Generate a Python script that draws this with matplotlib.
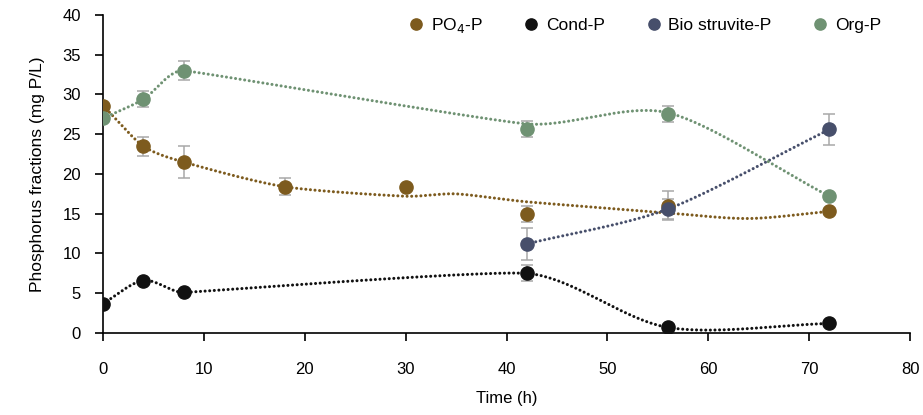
import numpy as np
import matplotlib
matplotlib.use("Agg")
import matplotlib.pyplot as plt

plt.rcParams['font.family'] = ['Liberation Sans', 'DejaVu Sans']

# data
time_po4 = [0, 4, 8, 18, 30, 42, 56, 72]
po4 = [28.6, 23.5, 21.5, 18.4, 18.4, 15.0, 16.0, 15.3]
po4_err = [0, 1.2, 2.0, 1.1, 0, 1.0, 1.8, 0]
# smoothed trend line of PO4-P (does not pass through every point)
po4_line_t = [0, 4, 8, 18, 30, 35, 42, 56, 64, 72]
po4_line = [28.6, 23.5, 21.5, 18.4, 17.2, 17.5, 16.5, 15.1, 14.4, 15.3]

time_cond = [0, 4, 8, 42, 56, 72]
cond = [3.7, 6.6, 5.1, 7.5, 0.7, 1.2]
cond_err = [0, 0, 0, 1.0, 0, 0]

time_bio = [42, 56, 72]
bio = [11.2, 15.6, 25.6]
bio_err = [2.0, 1.2, 2.0]

time_org = [0, 4, 8, 42, 56, 72]
org = [27.0, 29.4, 33.0, 25.7, 27.5, 17.2]
org_err = [0, 1.0, 1.2, 1.0, 1.0, 0]
org_line = [27.0, 29.4, 33.0, 26.3, 27.7, 17.2]

c_po4 = '#7d5b1e'
c_cond = '#111111'
c_bio = '#474f6b'
c_org = '#6f9273'

# pixels per data unit, so smoothing looks like the spreadsheet curve
SX, SY = 10.09, 7.95


def smooth(xs, ys, n=40, k=0.3):
    # bezier smoothing; handle length limited by the shorter neighbour segment
    p = np.column_stack([np.array(xs) * SX, np.array(ys) * SY])
    m = len(p)
    tang = []
    for i in range(m):
        a = p[max(i - 1, 0)]
        b = p[min(i + 1, m - 1)]
        d = b - a
        d = d / np.hypot(*d)
        segs = []
        if i > 0:
            segs.append(np.hypot(*(p[i] - p[i - 1])))
        if i < m - 1:
            segs.append(np.hypot(*(p[i + 1] - p[i])))
        tang.append(d * min(segs) * k)
    out = []
    for i in range(m - 1):
        p1, p2 = p[i], p[i + 1]
        c1 = p1 + tang[i]
        c2 = p2 - tang[i + 1]
        t = np.linspace(0, 1, n)[:, None]
        seg = ((1 - t) ** 3 * p1 + 3 * (1 - t) ** 2 * t * c1
               + 3 * (1 - t) * t ** 2 * c2 + t ** 3 * p2)
        out.append(seg if i == 0 else seg[1:])
    out = np.vstack(out)
    return out[:, 0] / SX, out[:, 1] / SY


fig = plt.figure(figsize=(9.23, 4.15), dpi=100)
ax = fig.add_axes([0.1116, 0.1976, 0.8744, 0.7663])

dot = dict(linestyle=(0, (0.01, 1.5)), dash_capstyle='round', lw=2.2)

series = [
    (time_po4, po4, po4_err, po4_line_t, po4_line, c_po4, 'PO$_4$-P'),
    (time_cond, cond, cond_err, time_cond, cond, c_cond, 'Cond-P'),
    (time_bio, bio, bio_err, time_bio, bio, c_bio, 'Bio struvite-P'),
    (time_org, org, org_err, time_org, org_line, c_org, 'Org-P'),
]

handles = []
for t, y, e, lt, ly, col, lab in series:
    sx, sy = smooth(lt, ly)
    ax.plot(sx, sy, color=col, zorder=2, **dot)
    ax.errorbar(t, y, yerr=e, fmt='none', ecolor='#a8a8a8', elinewidth=1.1,
                capsize=4, capthick=1.1, zorder=3)
    h, = ax.plot(t, y, 'o', color=col, ms=9.5, zorder=4, label=lab)
    handles.append(h)

ax.set_xlim(0, 80)
ax.set_ylim(0, 40)
ax.set_xticks(range(0, 81, 10))
ax.set_yticks(range(0, 41, 5))
for s in ['top', 'right']:
    ax.spines[s].set_visible(False)
for s in ['left', 'bottom']:
    ax.spines[s].set_linewidth(1.2)
ax.tick_params(axis='x', direction='out', length=6, width=1.2, pad=15, labelsize=12)
ax.tick_params(axis='y', direction='out', length=6, width=1.2, pad=10, labelsize=12)

ax.set_xlabel('Time (h)', fontsize=12, labelpad=10)
ax.set_ylabel('Phosphorus fractions (mg P/L)', fontsize=12.5, labelpad=12)

leg = ax.legend(handles=handles, loc='upper left', bbox_to_anchor=(0.36, 1.045),
                ncol=4, frameon=False, fontsize=12.5, handlelength=0.8,
                handletextpad=0.45, columnspacing=2.4, markerscale=0.85)

fig.savefig('out.png', dpi=100)
